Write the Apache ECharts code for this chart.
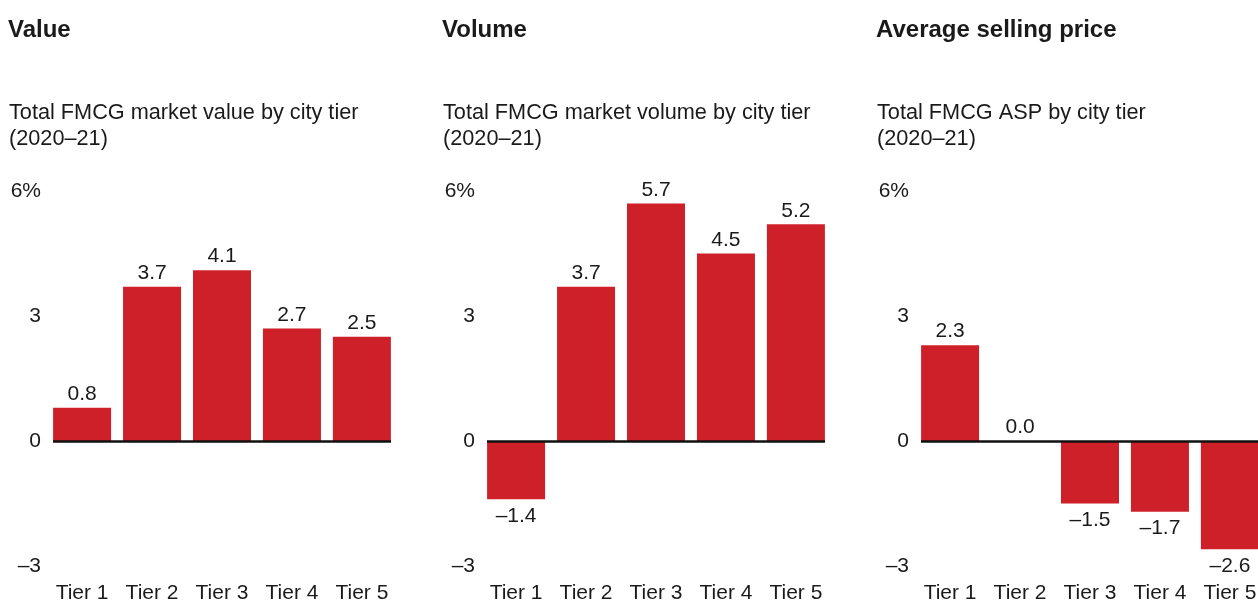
<!DOCTYPE html>
<html>
<head>
<meta charset="utf-8">
<title>FMCG growth by city tier</title>
<script src="https://cdn.jsdelivr.net/npm/echarts@6/dist/echarts.min.js"></script>
<style>
  html, body { margin: 0; padding: 0; background: #fff; }
  #chart { width: 1258px; height: 601px; }
</style>
</head>
<body>
<div id="chart"></div>
<script>
// data
const categories = ['Tier 1', 'Tier 2', 'Tier 3', 'Tier 4', 'Tier 5'];
const valueGrowth = [0.8, 3.7, 4.1, 2.7, 2.5];
const volumeGrowth = [-1.4, 3.7, 5.7, 4.5, 5.2];
const aspGrowth = [2.3, 0.0, -1.5, -1.7, -2.6];
const panelTitles = ['Value', 'Volume', 'Average selling price'];
const panelSubtitles = [
    'Total FMCG market value by city tier\n(2020–21)',
    'Total FMCG market volume by city tier\n(2020–21)',
    'Total FMCG ASP by city tier\n(2020–21)'
];
const yMin = -3;
const yMax = 6;
const yStep = 3;

const panels = [valueGrowth, volumeGrowth, aspGrowth];

const FONT = '"Liberation Sans", Arial, Helvetica, sans-serif';
const TEXT = '#1a1a1a';
const RED = '#ce2029';
const PANEL_STEP = 434;

const fmtNum = (v) => (v < 0 ? '–' + Math.abs(v).toFixed(1) : v.toFixed(1));

const chart = echarts.init(document.getElementById('chart'), null, { renderer: 'canvas' });

const titles = [];
const grids = [];
const xAxes = [];
const yAxes = [];
const series = [];

panels.forEach((values, i) => {
    const offset = i * PANEL_STEP;

    titles.push({
        text: panelTitles[i],
        left: 8 + offset,
        top: 18,
        padding: 0,
        textStyle: { fontFamily: FONT, fontWeight: 'bold', fontSize: 24, color: TEXT, lineHeight: 24 }
    });
    titles.push({
        text: panelSubtitles[i],
        left: 9 + offset,
        top: 100,
        padding: 0,
        textStyle: { fontFamily: FONT, fontWeight: 'normal', fontSize: 21.7, color: TEXT, lineHeight: 26 }
    });

    // no auto-shrinking: the last panel runs off the right edge like the original
    grids.push({ left: 53 + offset, top: 191, width: 338, height: 375, outerBoundsMode: 'none' });

    xAxes.push({
        gridIndex: i,
        type: 'value',
        min: 0.584,
        max: 5.416,
        axisLine: { show: false, onZero: false },
        axisTick: { show: false },
        splitLine: { show: false },
        axisLabel: {
            customValues: categories.map((_, k) => k + 1),
            formatter: (v) => categories[Math.round(v) - 1] || '',
            margin: 17,
            fontFamily: FONT,
            fontSize: 21,
            color: TEXT
        }
    });

    yAxes.push({
        gridIndex: i,
        type: 'value',
        min: yMin,
        max: yMax,
        interval: yStep,
        axisLine: { show: false },
        axisTick: { show: false },
        splitLine: { show: false },
        axisLabel: {
            margin: 12,
            padding: [2, 0, 0, 0],
            fontFamily: FONT,
            fontSize: 21,
            color: TEXT,
            formatter: (v) => (v === yMax ? v + '%' : v < 0 ? '–' + Math.abs(v) : String(v))
        }
    });

    series.push({
        type: 'bar',
        xAxisIndex: i,
        yAxisIndex: i,
        barWidth: 58,
        itemStyle: { color: RED },
        emphasis: { disabled: true },
        label: {
            show: true,
            fontFamily: FONT,
            fontSize: 21,
            color: TEXT,
            formatter: (p) => fmtNum(p.value[1])
        },
        data: values.map((v, k) => ({
            value: [k + 1, v],
            label: v < 0 ? { position: 'bottom', distance: 6 } : { position: 'top', distance: 3 }
        })),
        markLine: {
            silent: true,
            symbol: ['none', 'none'],
            label: { show: false },
            lineStyle: { color: '#111', width: 2.5, type: 'solid' },
            emphasis: { disabled: true },
            data: [{ yAxis: 0 }]
        },
        z: 3
    });
});

chart.setOption({
    animation: false,
    backgroundColor: '#fff',
    title: titles,
    grid: grids,
    xAxis: xAxes,
    yAxis: yAxes,
    series: series
});

window.addEventListener('resize', () => chart.resize());
</script>
</body>
</html>
